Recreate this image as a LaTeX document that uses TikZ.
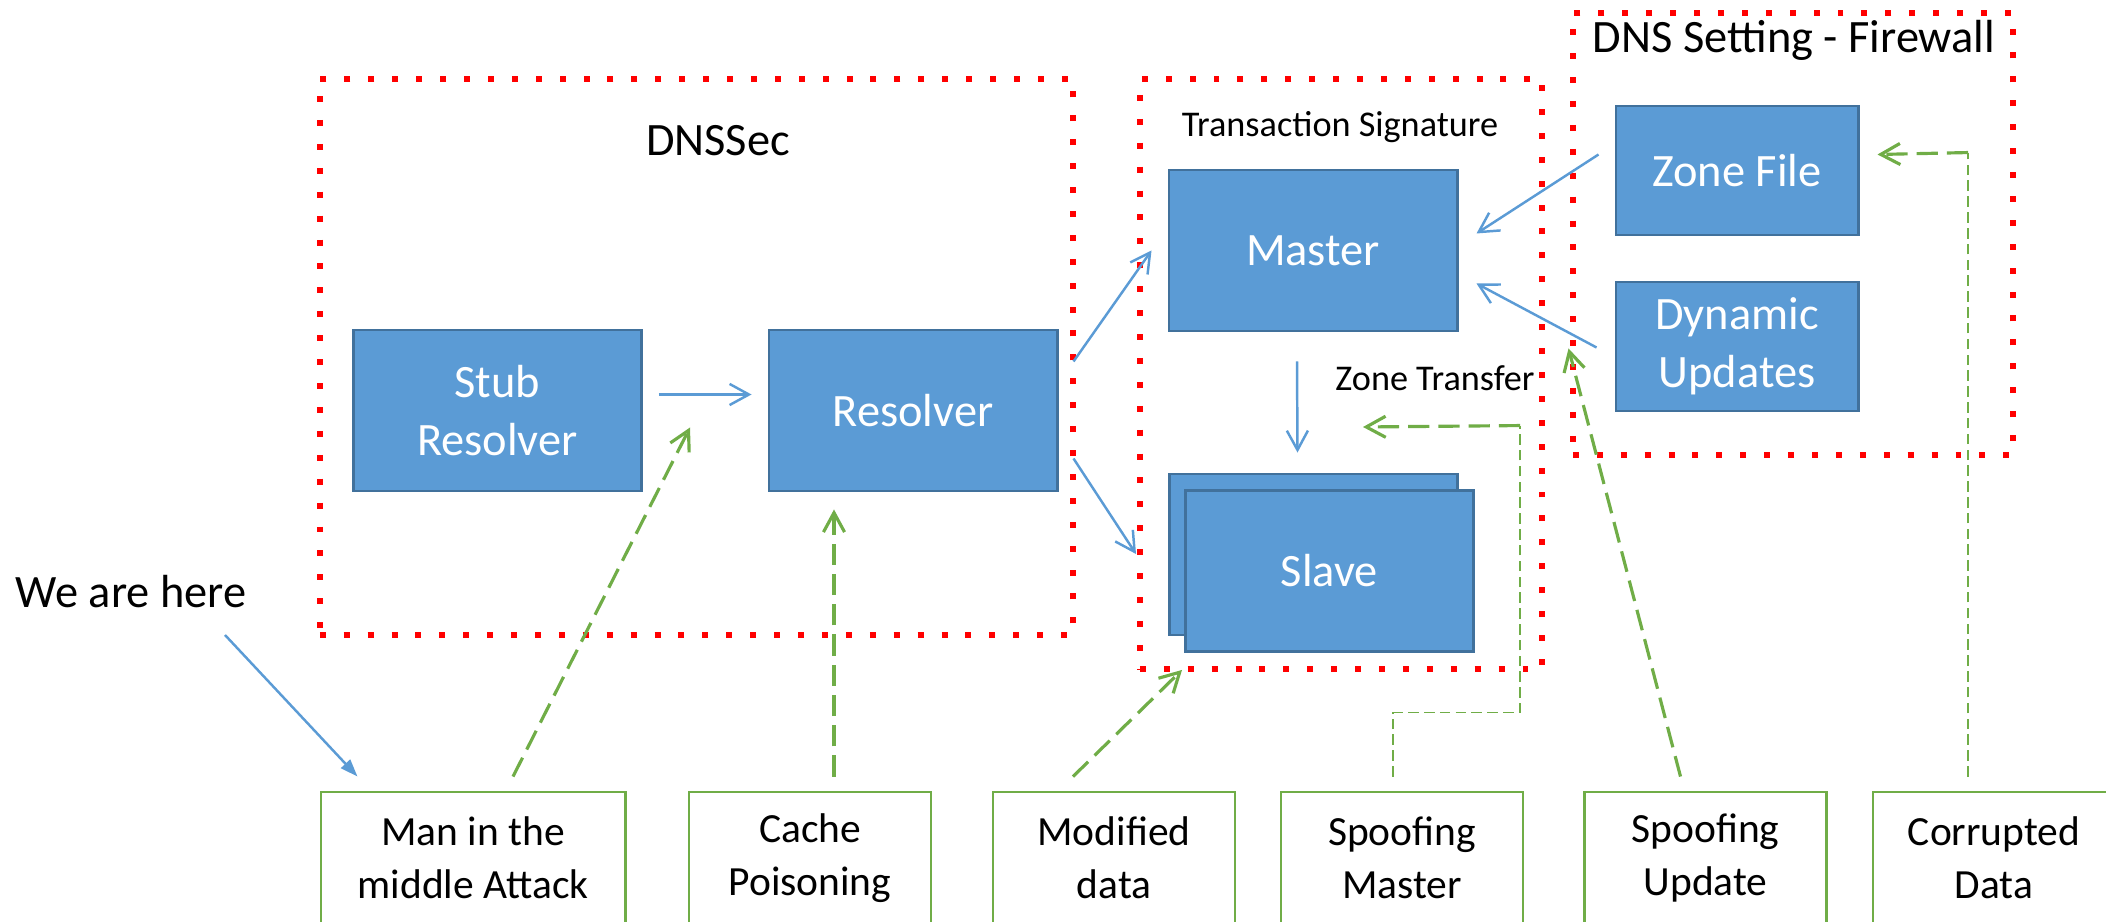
\documentclass[tikz,border=0pt]{standalone}
\usepackage{fontspec}
\setmainfont{Carlito}
\usetikzlibrary{arrows.meta, calc}

\definecolor{boxblue}{HTML}{5B9BD5}
\definecolor{boxedge}{HTML}{41719C}
\definecolor{attackgreen}{HTML}{70AD47}
\definecolor{zonered}{HTML}{FF0000}

\begin{document}
\begin{tikzpicture}[
    x=0.01cm, y=-0.01cm,
    every node/.style={font=\fontsize{13.2}{16.4}\selectfont},
    server/.style={rectangle, draw=boxedge, line width=0.8pt, fill=boxblue, text=white, align=center, inner sep=2pt, minimum width=2.88cm, minimum height=1.61cm},
    source/.style={server, minimum width=2.42cm, minimum height=1.29cm},
    attackbox/.style={rectangle, draw=attackgreen, line width=0.8pt, fill=white, align=center, inner sep=2pt, minimum width=2.42cm, minimum height=1.32cm, font=\fontsize{11.8}{15}\selectfont},
    zonebox/.style={rectangle, draw=zonered, line width=1.7pt, dash pattern=on 1.7pt off 5.1pt, inner sep=0pt},
    title/.style={anchor=base, inner sep=0pt},
    lbl/.style={anchor=base, inner sep=0pt, font=\fontsize{10.3}{12}\selectfont},
    link/.style={-{Straight Barb[length=5.5pt, width=6pt]}, draw=boxblue, line width=0.7pt},
    herearr/.style={-{Triangle[length=5pt, width=3.5pt]}, draw=boxblue, fill=boxblue, line width=0.7pt},
    attack/.style={-{Straight Barb[length=5.5pt, width=6pt]}, draw=attackgreen, line width=0.9pt, dash pattern=on 6pt off 2.6pt},
    attackthin/.style={draw=attackgreen, line width=0.4pt, dash pattern=on 3pt off 1.5pt},
]
\useasboundingbox (0,0) rectangle (2106,922);

% ---------- protection zones (red dotted) ----------
\node[zonebox, minimum width=7.53cm, minimum height=5.56cm] (dnssec) at (696.5,357) {};
\node[zonebox, minimum width=4.02cm, minimum height=5.90cm] (tsig) at (1341,374) {};
\node[zonebox, minimum width=4.40cm, minimum height=4.42cm] (firewall) at (1793,234) {};
\node[title] (dnsseclbl) at (718,156) {DNSSec};
\node[lbl] (tsiglbl) at (1340,137) {Transaction Signature};
\node[title] (firewalllbl) at (1794,53) {DNS Setting - Firewall};

% ---------- DNS components ----------
\node[server] (stub) at (497.5,410.5) {Stub\\Resolver};
\node[server] (resolver) at (913,410.5) {Resolver};
\node[server] (master) at (1313,250.5) {Master};
\node[server] (slaveback) at (1313.5,554.5) {};
\node[server] (slave) at (1329.5,571) {Slave};
\node[source] (zonefile) at (1737,170.5) {Zone File};
\node[source] (dynupd) at (1737,346.5) {Dynamic\\Updates};
\node[lbl] (xferlbl) at (1435,391) {Zone Transfer};

% data flow
\draw[link] ([shift={(16,-16)}]stub.east) -- ([shift={(-16,-16)}]resolver.west);
\draw[link] ([shift={(15,-49)}]resolver.east) -- ([shift={(-16,0)}]master.west);
\draw[link] ([shift={(15,48)}]resolver.east) -- ([shift={(-48,-17)}]slave.west);
\draw[link] ([shift={(-16,29)}]master.south) -- ([shift={(-16,-20)}]slaveback.north);
\draw[link] ([shift={(-16,-16)}]zonefile.west) -- ([shift={(18,-17)}]master.east);
\draw[link] ([shift={(-18,1)}]dynupd.west) -- ([shift={(18,33)}]master.east);

% ---------- where we are ----------
\node[title] (here) at (131,608) {We are here};

% ---------- attacks (bottom row) ----------
\node[attackbox, minimum width=3.04cm] (mitm) at (473,858) {Man in the\\middle Attack};
\node[attackbox] (cache) at (810,858) {Cache\\Poisoning};
\node[attackbox] (modified) at (1114,858) {Modified\\data};
\node[attackbox] (spoofm) at (1402,858) {Spoofing\\Master};
\node[attackbox] (spoofu) at (1705.5,858) {Spoofing\\Update};
\node[attackbox] (corrupt) at (1994,858) {Corrupted\\Data};

\draw[herearr] ([shift={(94,27)}]here.base) -- ([shift={(38,-14)}]mitm.north west);

% attack vectors
\draw[attack] ([shift={(40,-14)}]mitm.north) -- ([shift={(47,17)}]stub.east);
\draw[attack] ([shift={(24,-14)}]cache.north) -- ([shift={(-79,17)}]resolver.south);
\draw[attack] ([shift={(-41,-14)}]modified.north) -- ([shift={(-2,17)}]slave.south west);
\draw[attackthin] ([shift={(-9,-14)}]spoofm.north) -- ++(0,-64) -- ++(127,0) -- ++(0,-287) coordinate (smtop);
\draw[attack] (smtop) -- ([shift={(-72,36)}]xferlbl.base);
\draw[attack] ([shift={(-25,-14)}]spoofu.north) -- ([shift={(-46,2)}]dynupd.west);
\draw[attackthin] ([shift={(-26,-14)}]corrupt.north) -- ++(0,-624) coordinate (cdtop);
\draw[attack] (cdtop) -- ([shift={(18,-16)}]zonefile.east);

\end{tikzpicture}
\end{document}
